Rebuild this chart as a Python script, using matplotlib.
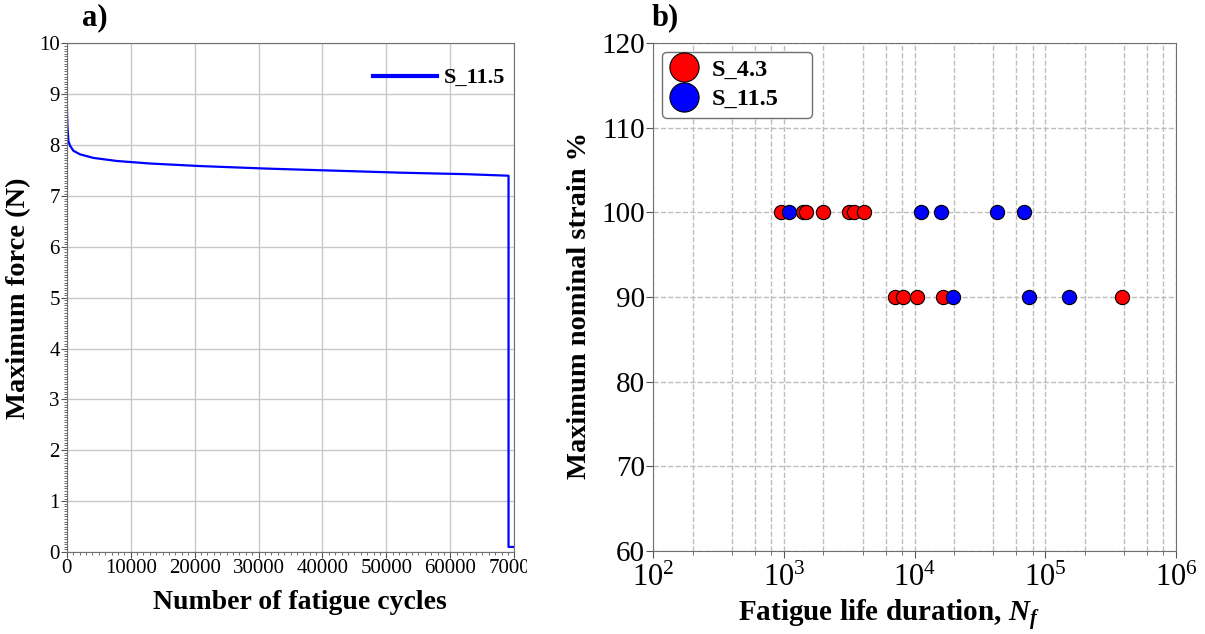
import matplotlib
matplotlib.use("Agg")
import matplotlib.pyplot as plt
from matplotlib.ticker import MultipleLocator, LogLocator, NullFormatter
from matplotlib.lines import Line2D
from matplotlib.transforms import Bbox

plt.rcParams['font.family'] = ['Liberation Serif', 'DejaVu Serif']
plt.rcParams['mathtext.fontset'] = 'custom'
plt.rcParams['mathtext.rm'] = 'Liberation Serif'
plt.rcParams['mathtext.it'] = 'Liberation Serif:italic:bold'
plt.rcParams['mathtext.bf'] = 'Liberation Serif:bold'

# ---- panel a data ----
cycles = [0, 52, 104, 260, 520, 1040, 2080, 4170, 7800, 13000, 20800, 31250,
          41700, 52100, 62500, 69100, 69100, 70000]
force = [8.86, 8.6, 8.38, 8.08, 7.99, 7.89, 7.82, 7.75, 7.69, 7.64, 7.59, 7.54,
         7.50, 7.46, 7.43, 7.40, 0.1, 0.1]
line_label = "S_11.5"

# ---- panel b data ----
s43_life = [950, 1390, 1470, 2000, 3160, 3450, 4090,
            7060, 8090, 10350, 16560, 387000]
s43_strain = [100, 100, 100, 100, 100, 100, 100,
              90, 90, 90, 90, 90]
s115_life = [1100, 11100, 15800, 42900, 69000,
             19700, 75400, 151800]
s115_strain = [100, 100, 100, 100, 100,
               90, 90, 90]
series_labels = ["S_4.3", "S_11.5"]

fig = plt.figure(figsize=(12.05, 6.34), dpi=100)

# ================= panel a =================
ax1 = fig.add_axes([0.0554, 0.1293, 0.3714, 0.8021])
ax1.plot(cycles, force, color='#0000ff', lw=1.6, label=line_label)
ax1.set_xlim(0, 70000)
ax1.set_ylim(0, 10)
ax1.xaxis.set_major_locator(MultipleLocator(10000))
ax1.xaxis.set_minor_locator(MultipleLocator(1000))
ax1.yaxis.set_major_locator(MultipleLocator(1))
ax1.yaxis.set_minor_locator(MultipleLocator(0.05))
ax1.grid(True, which='major', color='#c8c8c8', lw=1)
ax1.tick_params(axis='both', which='major', labelsize=15, length=4, color='#555555', pad=1)
ax1.tick_params(axis='both', which='minor', length=2, color='#555555')
for sp in ax1.spines.values():
    sp.set_color('#707070')
ax1.set_xlabel("Number of fatigue cycles", fontsize=20, fontweight='bold', labelpad=4)
ax1.xaxis.set_label_coords(0.521, -0.075)
ax1.set_ylabel("Maximum force (N)", fontsize=20.5, fontweight='bold', labelpad=6)
leg1 = ax1.legend(loc='center right', frameon=False, prop={'weight': 'bold', 'size': 16},
                  handlelength=2.9, handletextpad=0.3, borderpad=0, borderaxespad=0,
                  bbox_to_anchor=(0.98, 0.932))
for h in leg1.get_lines():
    h.set_linewidth(3)
fig.text(0.068, 0.972, "a)", fontsize=22, fontweight='bold', va='center', ha='left')

# ================= panel b =================
ax2 = fig.add_axes([0.5422, 0.1309, 0.4337, 0.8013])
ax2.scatter(s43_life, s43_strain, s=105, color='#ff0000', edgecolor='black', linewidth=0.8, zorder=3)
ax2.scatter(s115_life, s115_strain, s=105, color='#0000ff', edgecolor='black', linewidth=0.8, zorder=3)
ax2.set_xscale('log')
ax2.set_xlim(1e2, 1e6)
ax2.set_ylim(60, 120)
ax2.yaxis.set_major_locator(MultipleLocator(10))
ax2.xaxis.set_major_locator(LogLocator(base=10, numticks=10))
ax2.xaxis.set_minor_locator(LogLocator(base=10, subs=(2, 4, 6, 8), numticks=10))
ax2.xaxis.set_minor_formatter(NullFormatter())
ax2.grid(True, which='both', axis='x', color='#bdbdbd', ls='--', lw=1)
ax2.grid(True, which='major', axis='y', color='#bdbdbd', ls='--', lw=1)
ax2.tick_params(axis='y', which='major', labelsize=21, length=5, color='#555555', pad=1)
ax2.tick_params(axis='x', which='major', labelsize=22, length=5, color='#555555', pad=4)
ax2.tick_params(axis='x', which='minor', length=3, color='#555555')
for sp in ax2.spines.values():
    sp.set_color('#707070')
ax2.set_xlabel(r"Fatigue life duration, $N_f$", fontsize=21, fontweight='bold', labelpad=0)
ax2.xaxis.set_label_coords(0.45, -0.092)
ax2.set_ylabel("Maximum nominal strain %", fontsize=20.5, fontweight='bold', labelpad=6)
ax2.yaxis.set_label_coords(-0.118, 0.483)
handles = [Line2D([], [], ls='none', marker='o', markersize=21, markerfacecolor='#ff0000',
                  markeredgecolor='black', markeredgewidth=0.8),
           Line2D([], [], ls='none', marker='o', markersize=21, markerfacecolor='#0000ff',
                  markeredgecolor='black', markeredgewidth=0.8)]
leg2 = ax2.legend(handles, series_labels, loc='upper left', prop={'weight': 'bold', 'size': 17.5},
                  frameon=True, fancybox=True, edgecolor='#707070', framealpha=1,
                  labelspacing=0.3, handlelength=1.17, handletextpad=0.58, borderpad=0.3,
                  borderaxespad=0, mode='expand',
                  bbox_to_anchor=(0.017, 0.80, 0.287, 0.183))
fig.text(0.541, 0.972, "b)", fontsize=22, fontweight='bold', va='center', ha='left')

# the reference crops the last tick label of panel a at the panel border
fig.canvas.draw()
for t in ax1.get_xticklabels():
    if t.get_text() == '70000':
        t.set_clip_box(Bbox.from_extents(0, 0, 527, 634))
        t.set_clip_on(True)

fig.savefig("out.png", dpi=100)
